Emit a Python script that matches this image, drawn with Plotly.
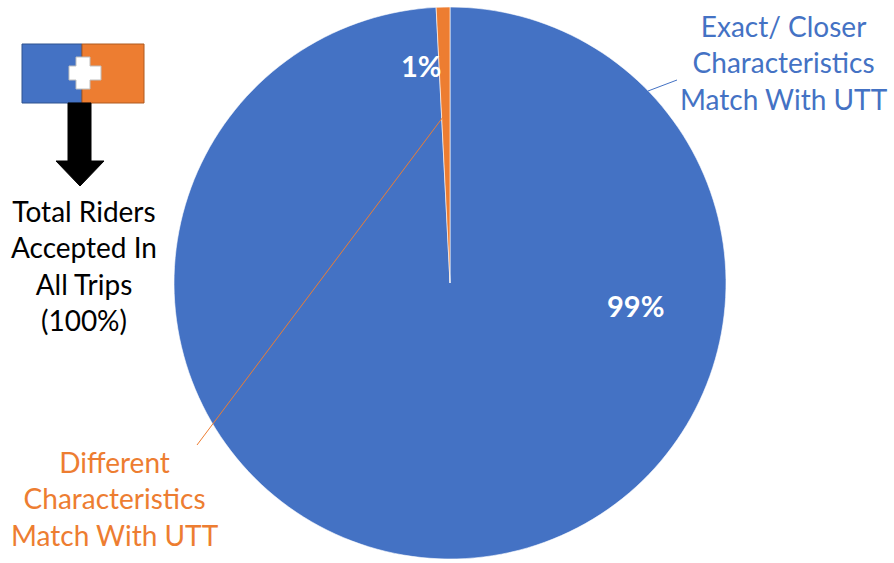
import plotly.graph_objects as go

categories = ["Exact/ Closer<br>Characteristics<br>Match With UTT", "Different<br>Characteristics<br>Match With UTT"]
shares = [99.2, 0.8]
colors = ["#4472C4", "#ED7D31"]
total_label = "Total Riders<br>Accepted In<br>All Trips<br>(100%)"

W, H = 894, 563
FONT = "Lato, 'Open Sans', sans-serif"

cx, cy, r = 450, 283, 276
fig = go.Figure()
fig.add_trace(go.Pie(
    labels=categories, values=shares, sort=False, direction="clockwise", rotation=0,
    marker=dict(colors=colors, line=dict(color="white", width=0.6)),
    textinfo="none", hoverinfo="label+percent", showlegend=False,
    domain=dict(x=[(cx - r) / W, (cx + r) / W], y=[(H - cy - r) / H, (H - cy + r) / H]),
))

tot = sum(shares)
pct = [f"{round(v / tot * 100)}%" for v in shares]

# invisible pixel-coordinate axes
fig.update_xaxes(range=[0, W], visible=False, fixedrange=True)
fig.update_yaxes(range=[H, 0], visible=False, fixedrange=True)
fig.add_trace(go.Scatter(x=[0], y=[0], mode="markers", marker=dict(opacity=0), showlegend=False, hoverinfo="skip"))

shapes = []
# leader lines
shapes.append(dict(type="line", x0=648, y0=91, x1=677, y1=80, line=dict(color="#4472C4", width=1)))
shapes.append(dict(type="line", x0=197, y0=445, x1=443, y1=117, line=dict(color="#ED7D31", width=1)))
# left graphic
shapes.append(dict(type="rect", x0=22, y0=44, x1=82, y1=103, fillcolor="#4472C4", line=dict(color="#2F528F", width=1)))
shapes.append(dict(type="rect", x0=82, y0=44, x1=144, y1=103, fillcolor="#ED7D31", line=dict(color="#AE5A21", width=1)))
shapes.append(dict(type="path", path="M 76 57 L 90 57 L 90 66 L 101 66 L 101 80 L 90 80 L 90 89 L 76 89 L 76 80 L 69 80 L 69 66 L 76 66 Z",
                   fillcolor="white", line=dict(color="#BFBFBF", width=1)))
shapes.append(dict(type="path", path="M 68 103 L 91 103 L 91 161 L 104 161 L 80 186 L 56 161 L 68 161 Z",
                   fillcolor="black", line=dict(color="black", width=1)))
for s in shapes:
    s.update(xref="x", yref="y")

annotations = [
    dict(x=784, y=62, text=categories[0], font=dict(color="#4472C4", size=28, family=FONT)),
    dict(x=115, y=498, text=categories[1], font=dict(color="#ED7D31", size=28, family=FONT)),
    dict(x=84, y=265, text=total_label, font=dict(color="black", size=28, family=FONT)),
    dict(x=421, y=65, text=f"<b>{pct[1]}</b>", font=dict(color="white", size=29, family=FONT)),
    dict(x=635, y=305, text=f"<b>{pct[0]}</b>", font=dict(color="white", size=29, family=FONT)),
]
for a in annotations:
    a.update(xref="x", yref="y", showarrow=False, align="center", xanchor="center", yanchor="middle")

fig.update_layout(
    width=W, height=H, margin=dict(l=0, r=0, t=0, b=0),
    paper_bgcolor="white", plot_bgcolor="rgba(0,0,0,0)",
    shapes=shapes, annotations=annotations,
    xaxis=dict(domain=[0, 1]), yaxis=dict(domain=[0, 1]),
)
fig.write_html("out.html", config={"displayModeBar": False},
               post_script="document.body.style.margin='0';")
